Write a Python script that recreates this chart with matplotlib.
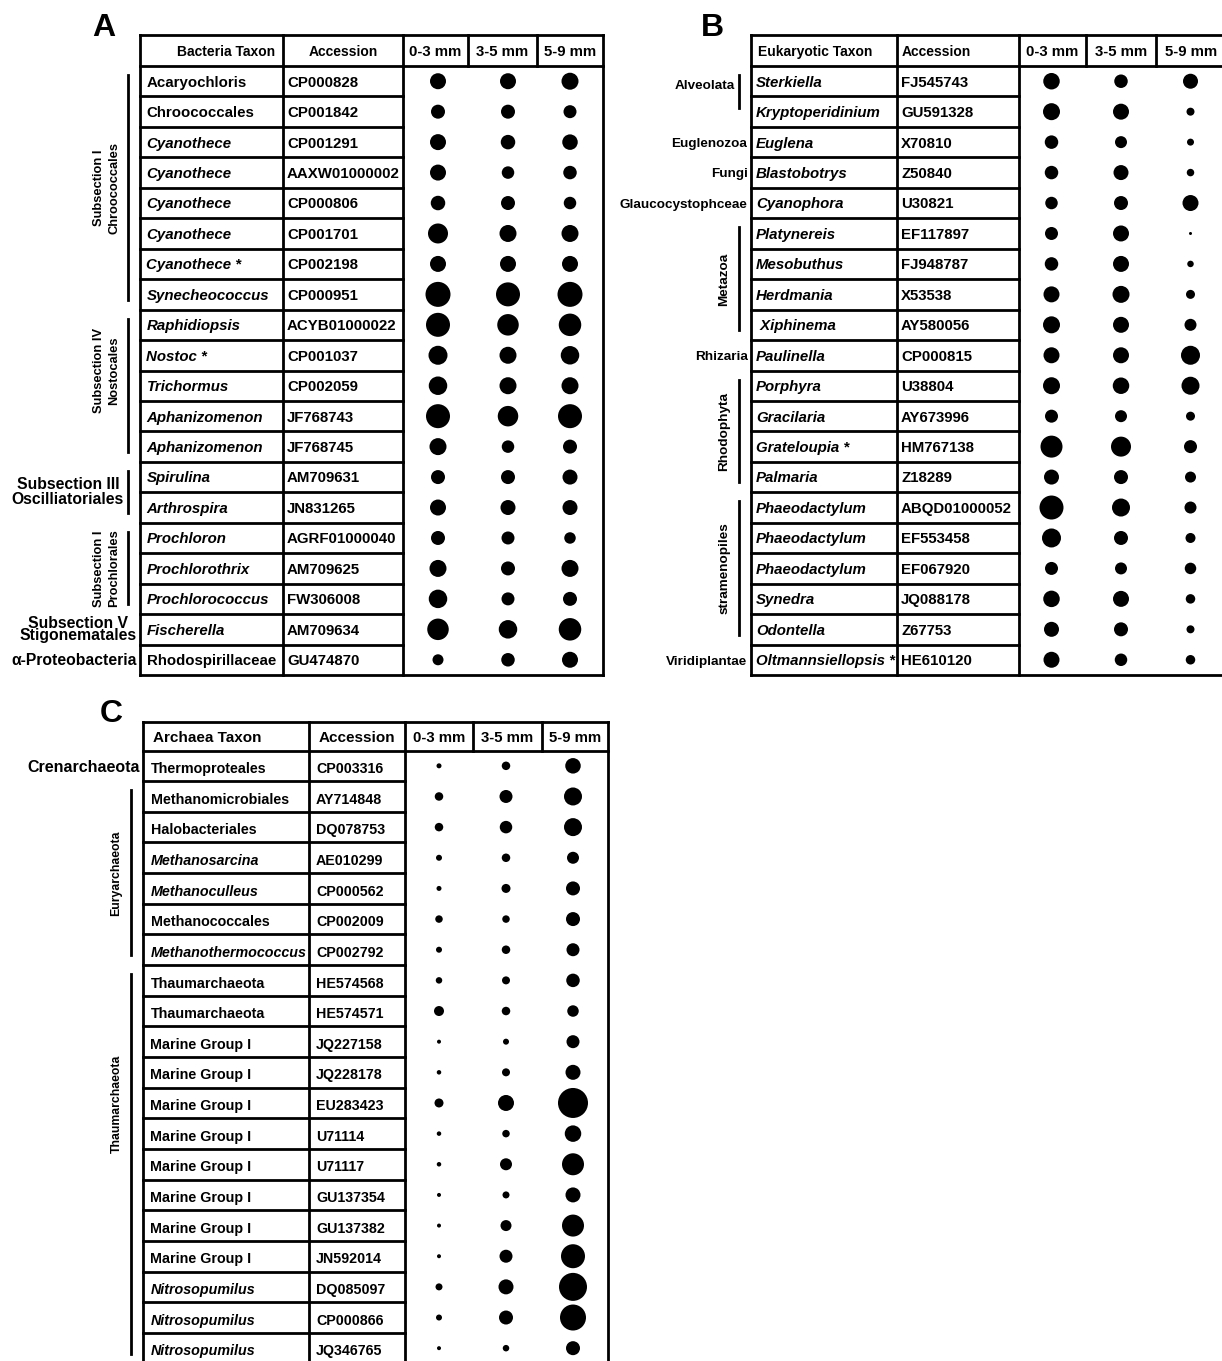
import matplotlib
matplotlib.use("Agg")
import matplotlib.pyplot as plt

# ---- A: bacteria ----
bac_taxa = ["Acaryochloris", "Chroococcales", "Cyanothece", "Cyanothece", "Cyanothece",
            "Cyanothece", "Cyanothece *", "Synecheococcus", "Raphidiopsis", "Nostoc *",
            "Trichormus", "Aphanizomenon", "Aphanizomenon", "Spirulina", "Arthrospira",
            "Prochloron", "Prochlorothrix", "Prochlorococcus", "Fischerella", "Rhodospirillaceae"]
bac_italic = [False, False, True, True, True, True, True, True, True, True,
              True, True, True, True, True, True, True, True, True, False]
bac_acc = ["CP000828", "CP001842", "CP001291", "AAXW01000002", "CP000806",
           "CP001701", "CP002198", "CP000951", "ACYB01000022", "CP001037",
           "CP002059", "JF768743", "JF768745", "AM709631", "JN831265",
           "AGRF01000040", "AM709625", "FW306008", "AM709634", "GU474870"]
bac_d03 = [16, 14, 16, 16, 14.5, 20, 16, 25, 24, 19, 18.5, 24, 17, 14, 16, 14, 17, 18.5, 21.5, 11]
bac_d35 = [16, 14, 14.5, 12.5, 14, 17, 16, 24, 21.5, 17, 17, 20.5, 12.5, 14, 15, 13, 14, 13, 18.5, 13.5]
bac_d59 = [17, 13, 15.5, 13.5, 12.5, 17, 16, 25, 22.5, 18.5, 17, 24, 14, 15, 15, 11.5, 17, 14, 22.5, 16]
bac_head = ["Bacteria Taxon", "Accession", "0-3 mm", "3-5 mm", "5-9 mm"]
bac_groups = [("Subsection I\nChroococcales", 0, 7, "rot"),
              ("Subsection IV\nNostocales", 8, 12, "rot"),
              ("Subsection III\nOscilliatoriales", 13, 14, "bar"),
              ("Subsection I\nProchlorales", 15, 17, "rot"),
              ("Subsection V\nStigonematales", 18, 18, "side"),
              ("α-Proteobacteria", 19, 19, "side")]

# ---- B: eukaryotes ----
euk_taxa = ["Sterkiella", "Kryptoperidinium", "Euglena", "Blastobotrys", "Cyanophora",
            "Platynereis", "Mesobuthus", "Herdmania", " Xiphinema", "Paulinella",
            "Porphyra", "Gracilaria", "Grateloupia *", "Palmaria", "Phaeodactylum",
            "Phaeodactylum", "Phaeodactylum", "Synedra", "Odontella", "Oltmannsiellopsis *"]
euk_italic = [True] * 20
euk_acc = ["FJ545743", "GU591328", "X70810", "Z50840", "U30821",
           "EF117897", "FJ948787", "X53538", "AY580056", "CP000815",
           "U38804", "AY673996", "HM767138", "Z18289", "ABQD01000052",
           "EF553458", "EF067920", "JQ088178", "Z67753", "HE610120"]
euk_d03 = [16.5, 17, 13.5, 13.5, 12.5, 13, 13.5, 16, 17, 16, 17, 13, 22, 15, 24, 19, 13, 16.5, 15, 16]
euk_d35 = [13.5, 16, 12, 15, 14, 16, 16, 17, 16, 16, 16.5, 12, 20, 14, 18, 14, 12, 16, 14, 12.5]
euk_d59 = [15, 8, 7, 7.5, 16, 3, 6.5, 9, 12, 19, 18, 9, 13, 11, 12, 10, 11.5, 9.5, 8, 9.5]
euk_head = ["Eukaryotic Taxon", "Accession", "0-3 mm", "3-5 mm", "5-9 mm"]
euk_groups = [("Alveolata", 0, 1, "bar_top"),
              ("Euglenozoa", 2, 2, "side"),
              ("Fungi", 3, 3, "side"),
              ("Glaucocystophceae", 4, 4, "side"),
              ("Metazoa", 5, 8, "rot"),
              ("Rhizaria", 9, 9, "side"),
              ("Rhodophyta", 10, 13, "rot"),
              ("stramenopiles", 14, 18, "rot"),
              ("Viridiplantae", 19, 19, "side")]

# ---- C: archaea ----
arc_taxa = ["Thermoproteales", "Methanomicrobiales", "Halobacteriales", "Methanosarcina",
            "Methanoculleus", "Methanococcales", "Methanothermococcus", "Thaumarchaeota",
            "Thaumarchaeota", "Marine Group I", "Marine Group I", "Marine Group I",
            "Marine Group I", "Marine Group I", "Marine Group I", "Marine Group I",
            "Marine Group I", "Nitrosopumilus", "Nitrosopumilus", "Nitrosopumilus"]
arc_italic = [False, False, False, True, True, False, True, False, False, False,
              False, False, False, False, False, False, False, True, True, True]
arc_acc = ["CP003316", "AY714848", "DQ078753", "AE010299", "CP000562",
           "CP002009", "CP002792", "HE574568", "HE574571", "JQ227158",
           "JQ228178", "EU283423", "U71114", "U71117", "GU137354",
           "GU137382", "JN592014", "DQ085097", "CP000866", "JQ346765"]
arc_d03 = [5, 8.5, 8.5, 6, 5, 7.5, 6, 6.5, 10, 4, 4.5, 9, 4.5, 4.5, 4, 4, 4, 7, 6, 4]
arc_d35 = [8.5, 13, 12.5, 8.5, 9, 7.5, 8.5, 8, 8.5, 6, 8, 16, 7.5, 12, 7, 11, 13, 15, 14, 6.5]
arc_d59 = [15.5, 18, 18, 12, 14, 14, 13, 13.5, 11.5, 13, 15, 30, 16.5, 22, 15, 22, 24, 28, 26, 14]
arc_head = ["Archaea Taxon", "Accession", "0-3 mm", "3-5 mm", "5-9 mm"]
arc_groups = [("Crenarchaeota", 0, 0, "side"),
              ("Euryarchaeota", 1, 6, "rot"),
              ("Thaumarchaeota", 7, 19, "rot")]

FONT = ["Liberation Sans", "DejaVu Sans"]
LW = 2.0


def px(pt):
    return pt * 100 / 72.0


def draw_panel(ax, lay, head, taxa, italic, acc, d03, d35, d59, groups):
    x0, xt, xa, xm1, xm2, xr = lay["cols"]
    top, yh, rh = lay["top"], lay["head"], lay["row_h"]
    n = len(taxa)
    bottom = yh + n * rh
    line = dict(color="black", lw=LW, solid_capstyle="projecting")

    # frame and grid
    ax.plot([x0, xr], [top, top], **line)
    ax.plot([x0, xr], [yh, yh], **line)
    ax.plot([x0, xr], [bottom, bottom], **line)
    for i in range(1, n):
        ax.plot([x0, xa], [yh + i * rh] * 2, **line)
    for x in (x0, xt, xa, xr):
        ax.plot([x, x], [top, bottom], **line)
    for x in (xm1, xm2):
        ax.plot([x, x], [top, yh], **line)

    # header
    hfs = lay["head_fs"]
    hy = (top + yh) / 2 + 0.36 * px(hfs)
    ha_t, hx_t = lay["head_tax"]
    ha_a, hx_a = lay["head_acc"]
    ax.text(hx_t, hy, head[0], ha=ha_t, va="baseline", fontsize=hfs,
            fontweight="bold", family=FONT)
    ax.text(hx_a, hy, head[1], ha=ha_a, va="baseline", fontsize=hfs,
            fontweight="bold", family=FONT)
    mm_fs = 10.8
    for lab, xl, xrr in zip(head[2:], (xa, xm1, xm2), (xm1, xm2, xr)):
        ax.text((xl + xrr) / 2, (top + yh) / 2 + 0.36 * px(mm_fs), lab, ha="center",
                va="baseline", fontsize=mm_fs, fontweight="bold", family=FONT)

    # rows
    fs = lay["fs"]
    centers = [yh + (i + 0.5) * rh for i in range(n)]
    for yc, name, it, a in zip(centers, taxa, italic, acc):
        yb = yc + 0.36 * px(fs) + lay["txt_dy"]
        ax.text(lay["tax_x"], yb, name, ha="left", va="baseline", fontsize=fs,
                fontweight="bold", style="italic" if it else "normal", family=FONT)
        ax.text(lay["acc_x"], yb, a, ha="left", va="baseline", fontsize=fs,
                fontweight="bold", family=FONT)

    # abundance dots
    for xc, diam in zip(lay["dots"], (d03, d35, d59)):
        ax.scatter([xc] * n, centers, s=[(d * 72 / 100.0) ** 2 for d in diam],
                   c="black", linewidths=0, zorder=3)

    # group labels and brackets
    bx = x0 - 12
    for lab, i0, i1, kind in groups:
        g_top = yh + i0 * rh
        g_bot = yh + (i1 + 1) * rh
        yc = (g_top + g_bot) / 2 + lay["nudge"].get(lab, 0)
        if kind == "bar_top":
            ax.plot([bx, bx], [g_top + 9, g_top + 42], **line)
        elif kind in ("rot", "bar"):
            ax.plot([bx, bx], [g_top + 9, g_bot - 10], **line)
        if kind == "rot":
            ax.text(bx - 8, yc, lab, ha="right", va="center", rotation=90,
                    multialignment="center", fontsize=lay["rot_fs"],
                    fontweight="bold", family=FONT, linespacing=1.3)
        else:
            xr_lab = bx - 4 if kind.startswith("bar") else x0 - 3
            sfs = lay["side_fs"]
            if "\n" in lab:
                ls = 0.8 if kind == "side" else 1.0
                ax.text(xr_lab, yc, lab, ha="right", va="center",
                        multialignment="center", fontsize=sfs, fontweight="bold",
                        family=FONT, linespacing=ls)
            else:
                if kind == "bar_top":
                    yc = g_top + rh / 2 + 3
                ax.text(xr_lab, yc + 0.36 * px(sfs), lab, ha="right", va="baseline",
                        fontsize=sfs, fontweight="bold", family=FONT)

    lx, ly, letter = lay["letter"]
    ax.text(lx, ly, letter, ha="center", va="baseline", fontsize=23,
            fontweight="bold", family=FONT)


lay_a = dict(cols=[140, 283, 403, 468, 537, 603], top=35, head=66, row_h=30.45,
             dots=[438, 508, 570], tax_x=146.5, acc_x=287, txt_dy=0, fs=10.8,
             head_tax=("left", 177), head_acc=("center", 343), head_fs=10,
             rot_fs=9.3, side_fs=11.3,
             nudge={"Subsection IV\nNostocales": -15}, letter=(104, 36, "A"))
lay_b = dict(cols=[750.5, 897, 1019, 1085.7, 1155.7, 1226], top=35, head=66, row_h=30.45,
             dots=[1051.5, 1121, 1190.5], tax_x=756, acc_x=901, txt_dy=0, fs=10.8,
             head_tax=("left", 757.5), head_acc=("left", 902), head_fs=10,
             rot_fs=9.7, side_fs=9.7,
             nudge={}, letter=(712, 36, "B"))
lay_c = dict(cols=[142.6, 308.6, 405, 472.5, 541.5, 608], top=722, head=750.5, row_h=30.65,
             dots=[439, 506, 573], tax_x=150.5, acc_x=316, txt_dy=2, fs=10.3,
             head_tax=("left", 153), head_acc=("center", 357), head_fs=11,
             rot_fs=8.8, side_fs=11.5,
             nudge={"Thaumarchaeota": -60}, letter=(111, 722, "C"))

fig = plt.figure(figsize=(12.22, 13.61), dpi=100)
ax = fig.add_axes([0, 0, 1, 1])
ax.set_xlim(0, 1222)
ax.set_ylim(1361, 0)
ax.axis("off")

draw_panel(ax, lay_a, bac_head, bac_taxa, bac_italic, bac_acc, bac_d03, bac_d35, bac_d59, bac_groups)
draw_panel(ax, lay_b, euk_head, euk_taxa, euk_italic, euk_acc, euk_d03, euk_d35, euk_d59, euk_groups)
draw_panel(ax, lay_c, arc_head, arc_taxa, arc_italic, arc_acc, arc_d03, arc_d35, arc_d59, arc_groups)

fig.savefig("out.png", dpi=100, facecolor="white")
